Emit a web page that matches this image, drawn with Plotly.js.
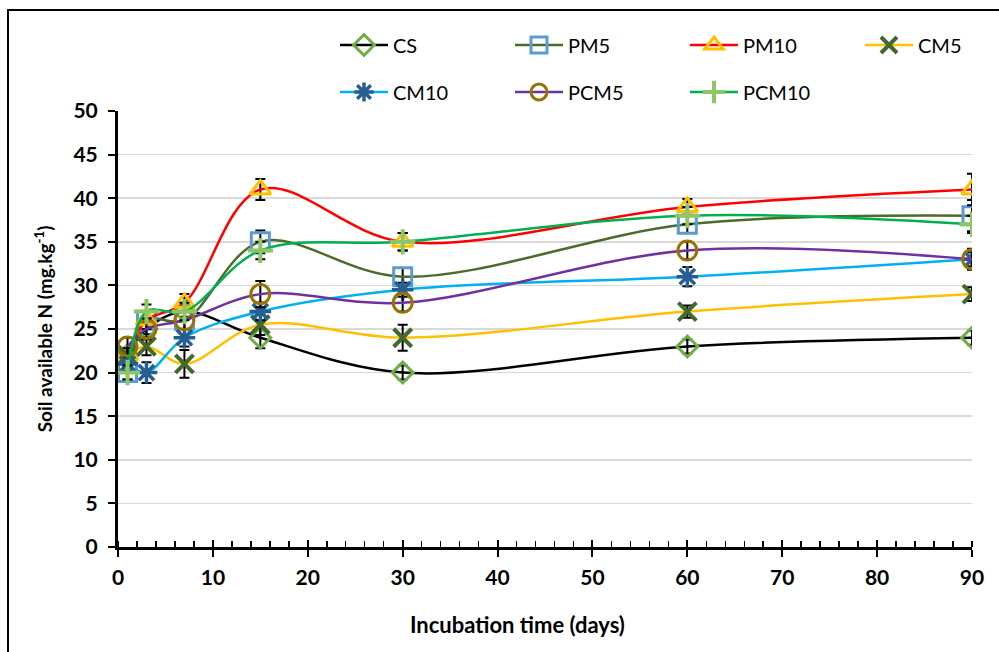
<!DOCTYPE html>
<html>
<head>
<meta charset="utf-8">
<script src="https://cdn.plot.ly/plotly-3.0.1.min.js"></script>
<style>html,body{margin:0;padding:0;background:#fff;}#chart{width:999px;height:652px;}</style>
</head>
<body>
<div id="chart"></div>
<script>
// Incubation days
const days = [1, 3, 7, 15, 30, 60, 90];
const seriesNames = ["CS", "PM5", "PM10", "CM5", "CM10", "PCM5", "PCM10"];
// Soil available N (mg.kg-1)
const CS    = [22, 25, 27, 24, 20, 23, 24];
const PM5   = [20, 26, 26, 35, 31, 37, 38];
const PM10  = [22, 26, 28, 41, 35, 39, 41];
const CM5   = [22, 23, 21, 25.5, 24, 27, 29];
const CM10  = [21, 20, 24, 27, 29.5, 31, 33];
const PCM5  = [23, 25, 26, 29, 28, 34, 33];
const PCM10 = [20, 27, 27, 34, 35, 38, 37];
// error bar half-widths
const CS_err    = [0.8, 0.6, 0.6, 1.2, 0.8, 0.8, 0.8];
const PM5_err   = [0.8, 1.0, 1.0, 1.3, 1.0, 1.0, 1.8];
const PM10_err  = [0.8, 1.0, 1.0, 1.2, 1.0, 0.9, 1.8];
const CM5_err   = [0.8, 1.0, 1.6, 1.2, 1.5, 0.7, 0.8];
const CM10_err  = [0.8, 1.2, 1.0, 1.0, 0.8, 1.1, 0.8];
const PCM5_err  = [1.0, 1.2, 1.0, 1.5, 1.0, 1.0, 1.2];
const PCM10_err = [0.8, 0.8, 1.0, 1.0, 1.0, 1.0, 1.0];

const values = [CS, PM5, PM10, CM5, CM10, PCM5, PCM10];
const errs = [CS_err, PM5_err, PM10_err, CM5_err, CM10_err, PCM5_err, PCM10_err];
const lineColors = ["#000000", "#4a6b2a", "#ff0000", "#ffc000", "#00b0f0", "#7030a0", "#00b050"];
const markerColors = ["#70ad47", "#5b9bd5", "#ffc000", "#43682b", "#255e91", "#997300", "#8cc665"];
const symbols = ["diamond-open", "square-open", "triangle-up-open", "x-thin-open", "asterisk-open", "circle-open", "cross-thin-open"];
const sizes = [16, 18, 18, 18, 18, 19, 18];
const mlw = [3, 3, 3, 4, 3.5, 3, 4];

const font = "Lato, 'Open Sans', sans-serif";
const W = 854, H = 436;
function px(p) { return (p - 118) / W; }
function py(p) { return (547 - p) / H; }

// legend slot positions (pixel x of item start, pixel y of row centre)
const legX = [335, 510, 685, 860, 335, 510, 685];
const legY = [45, 45, 45, 45, 92, 92, 92];
const legendKeys = seriesNames.map((n, i) => i === 0 ? "legend" : "legend" + (i + 1));

const traces = seriesNames.map((name, i) => ({
  type: "scatter",
  mode: "lines+markers",
  name: name,
  x: days,
  y: values[i],
  legend: legendKeys[i],
  line: {color: lineColors[i], width: 2.5, shape: "spline", smoothing: 1},
  marker: {symbol: symbols[i], size: sizes[i], color: markerColors[i], line: {color: markerColors[i], width: mlw[i]}},
  error_y: {type: "data", array: errs[i], visible: true, color: "#000000", thickness: 2, width: 5}
}));

// dummy trace on overlay axis for inside major ticks
traces.push({type: "scatter", x: [0, 90], y: [0, 0], xaxis: "x2", mode: "none", showlegend: false, hoverinfo: "skip"});

const layout = {
  width: 999, height: 652,
  margin: {l: 118, r: 27, t: 111, b: 105},
  paper_bgcolor: "#ffffff",
  plot_bgcolor: "#ffffff",
  font: {family: font, size: 20, color: "#000000"},
  showlegend: true,
  xaxis: {
    range: [0, 90], dtick: 10, tick0: 0,
    showline: true, linecolor: "#000", linewidth: 3,
    ticks: "outside", ticklen: 7, tickwidth: 2, tickcolor: "#000",
    minor: {dtick: 2, ticks: "inside", ticklen: 6, tickwidth: 1.5, tickcolor: "#000", showgrid: false},
    showgrid: false, zeroline: false, ticklabelstandoff: 3,
    tickfont: {family: font, size: 21, weight: "bold", color: "#000"},
    automargin: false
  },
  xaxis2: {
    range: [0, 90], dtick: 10, tick0: 0, overlaying: "x", anchor: "y",
    ticks: "inside", ticklen: 7, tickwidth: 2, tickcolor: "#000",
    showticklabels: false, showgrid: false, zeroline: false, showline: false
  },
  yaxis: {
    range: [0, 50], dtick: 5, tick0: 0,
    showline: true, linecolor: "#000", linewidth: 3,
    ticks: "outside", ticklen: 7, tickwidth: 2, tickcolor: "#000",
    showgrid: true, gridcolor: "#d9d9d9", gridwidth: 1.5, zeroline: false,
    ticklabelstandoff: 6,
    tickfont: {family: font, size: 21, weight: "bold", color: "#000"},
    title: {text: "Soil available N (mg.kg<sup>-1</sup>)", font: {family: font, size: 19, weight: "bold", color: "#000"}, standoff: 16},
    automargin: false
  },
  annotations: [{
    text: "Incubation time (days)", xref: "paper", yref: "paper",
    x: px(517), y: py(624), xanchor: "center", yanchor: "middle", showarrow: false,
    font: {family: font, size: 22, weight: "bold", color: "#000"}
  }],
  shapes: [
    {type: "line", xref: "paper", yref: "paper", x0: px(8), x1: px(8), y0: py(10), y1: py(665),
     line: {color: "#000", width: 2}, layer: "below"},
    {type: "line", xref: "paper", yref: "paper", x0: px(7), x1: px(1010), y0: py(10), y1: py(10),
     line: {color: "#000", width: 2}, layer: "below"}
  ]
};

legendKeys.forEach((k, i) => {
  layout[k] = {
    orientation: "h", x: px(legX[i]), xanchor: "left", y: py(legY[i]), yanchor: "middle",
    itemwidth: 48, font: {family: font, size: 20, color: "#000"}, bgcolor: "rgba(0,0,0,0)"
  };
});

Plotly.newPlot("chart", traces, layout, {displayModeBar: false, staticPlot: true});
</script>
</body>
</html>
